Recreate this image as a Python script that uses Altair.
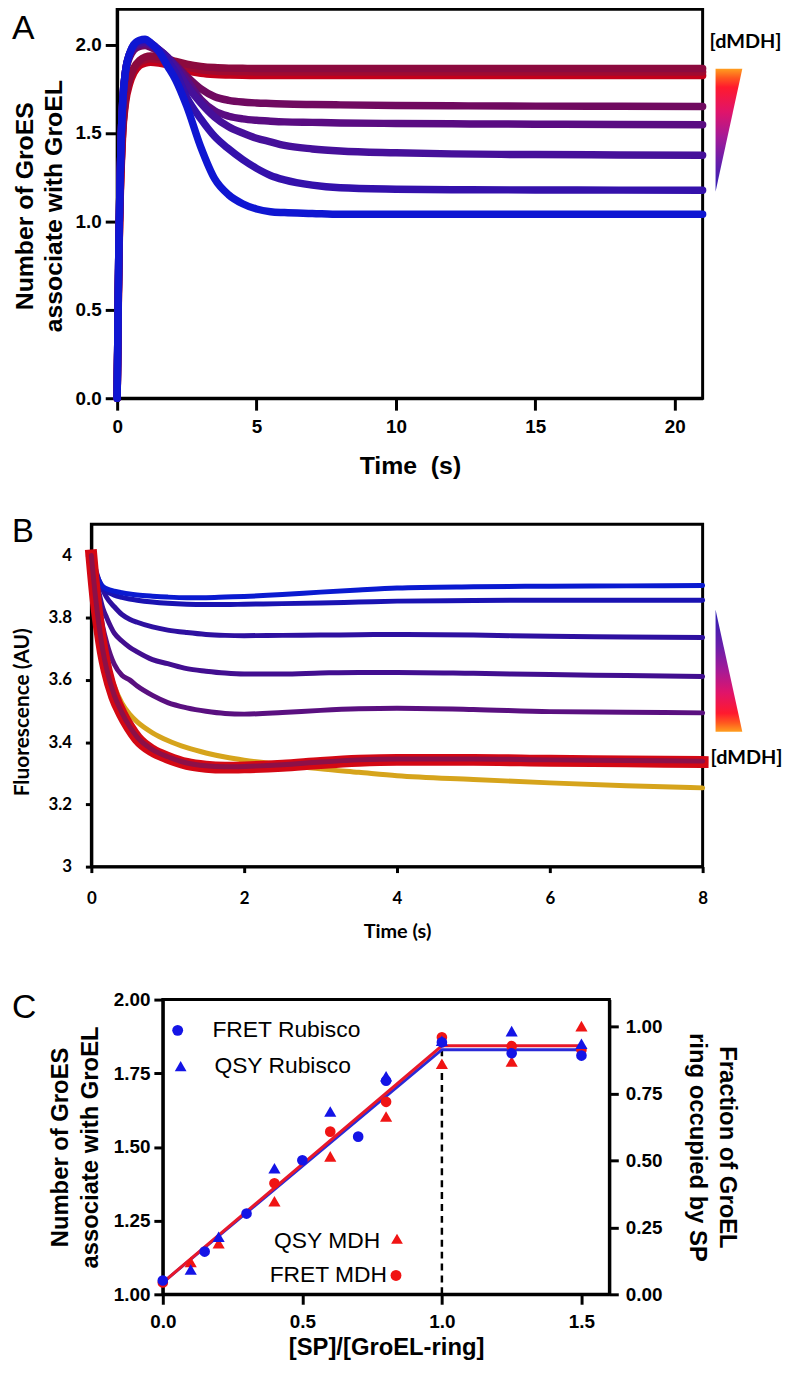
import altair as alt
import pandas as pd

ARIAL = "Liberation Sans"
CALIBRI = "Lato"

# ---------------- Panel A: GroES per GroEL vs time ----------------
A_TIME = [0, 0.03, 0.06, 0.1, 0.15, 0.2, 0.3, 0.45, 0.6, 0.8, 1.0, 1.2, 1.5, 1.8, 2.1,
          2.5, 3.0, 3.5, 4.0, 4.5, 5.0, 5.5, 6.0, 7.0, 8.0, 10, 12, 15, 18, 21]
A_S1 = [0, 0.45, 0.85, 1.2, 1.5, 1.68, 1.85, 1.95, 2.0, 2.025, 2.03, 2.01, 1.96, 1.88, 1.80,
        1.65, 1.42, 1.24, 1.15, 1.10, 1.07, 1.055, 1.05, 1.045, 1.04, 1.04, 1.04, 1.04, 1.04, 1.04]
A_S2 = [0, 0.45, 0.85, 1.2, 1.5, 1.68, 1.85, 1.95, 2.0, 2.02, 2.025, 2.01, 1.97, 1.91, 1.84,
        1.70, 1.58, 1.48, 1.41, 1.35, 1.30, 1.26, 1.235, 1.205, 1.19, 1.182, 1.179, 1.178, 1.177, 1.176]
A_S3 = [0, 0.45, 0.85, 1.2, 1.5, 1.68, 1.85, 1.95, 1.99, 2.01, 2.015, 2.0, 1.97, 1.93, 1.87,
        1.77, 1.67, 1.59, 1.535, 1.50, 1.47, 1.45, 1.43, 1.41, 1.398, 1.388, 1.382, 1.378, 1.376, 1.374]
A_S4 = [0, 0.45, 0.85, 1.2, 1.5, 1.68, 1.85, 1.94, 1.98, 2.0, 2.005, 1.995, 1.97, 1.93, 1.88,
        1.80, 1.69, 1.625, 1.595, 1.58, 1.572, 1.567, 1.563, 1.56, 1.557, 1.554, 1.552, 1.55, 1.548, 1.547]
A_S5 = [0, 0.45, 0.85, 1.2, 1.5, 1.67, 1.84, 1.93, 1.97, 1.99, 1.995, 1.985, 1.96, 1.925, 1.885,
        1.82, 1.75, 1.705, 1.685, 1.675, 1.67, 1.667, 1.664, 1.661, 1.659, 1.656, 1.654, 1.652, 1.651, 1.65]
A_S6 = [0, 0.4, 0.78, 1.1, 1.35, 1.52, 1.7, 1.81, 1.87, 1.91, 1.93, 1.935, 1.93, 1.92, 1.905,
        1.89, 1.877, 1.87, 1.867, 1.866, 1.865, 1.865, 1.865, 1.865, 1.865, 1.865, 1.865, 1.865, 1.865, 1.865]
A_S7 = [0, 0.4, 0.78, 1.1, 1.35, 1.52, 1.69, 1.80, 1.86, 1.90, 1.915, 1.92, 1.915, 1.905, 1.89,
        1.872, 1.858, 1.85, 1.847, 1.846, 1.845, 1.845, 1.845, 1.845, 1.845, 1.845, 1.845, 1.845, 1.845, 1.845]
A_S8 = [0, 0.38, 0.75, 1.07, 1.32, 1.5, 1.67, 1.78, 1.84, 1.88, 1.895, 1.9, 1.895, 1.885, 1.87,
        1.852, 1.838, 1.831, 1.828, 1.826, 1.825, 1.825, 1.825, 1.825, 1.825, 1.825, 1.825, 1.825, 1.825, 1.825]
A_NAMES = ["s8", "s7", "s6", "s5", "s4", "s3", "s2", "s1"]
A_VALUES = [A_S8, A_S7, A_S6, A_S5, A_S4, A_S3, A_S2, A_S1]
A_COLORS = ["#c4001a", "#a00a30", "#8c0a3e", "#700a60", "#5a0c82", "#46109a", "#3411ab", "#0f16d2"]
A_X_TICKS = [0, 5, 10, 15, 20]
A_Y_TICKS = [0.0, 0.5, 1.0, 1.5, 2.0]

# ---------------- Panel B: fluorescence vs time ----------------
B_TIME = [0, 0.05, 0.1, 0.15, 0.2, 0.3, 0.4, 0.5, 0.6, 0.8, 1.0, 1.25, 1.5, 1.75, 2.0,
          2.5, 3.0, 3.5, 4.0, 5.0, 6.0, 7.0, 8.0]
B_GOLD = [4.0, 3.88, 3.79, 3.72, 3.66, 3.58, 3.525, 3.49, 3.465, 3.43, 3.405, 3.382, 3.365, 3.352, 3.342,
          3.328, 3.314, 3.303, 3.292, 3.28, 3.269, 3.26, 3.253]
B_S5 = [4.0, 3.92, 3.84, 3.77, 3.72, 3.65, 3.615, 3.60, 3.58, 3.55, 3.527, 3.51, 3.499, 3.492, 3.49,
        3.495, 3.502, 3.507, 3.509, 3.505, 3.498, 3.496, 3.494]
B_S4 = [4.0, 3.94, 3.88, 3.83, 3.80, 3.75, 3.725, 3.705, 3.69, 3.665, 3.652, 3.636, 3.628, 3.622, 3.619,
        3.619, 3.622, 3.624, 3.624, 3.621, 3.617, 3.614, 3.611]
B_S3 = [4.0, 3.96, 3.92, 3.89, 3.865, 3.835, 3.81, 3.795, 3.785, 3.77, 3.76, 3.752, 3.746, 3.743, 3.742,
        3.743, 3.744, 3.745, 3.746, 3.744, 3.74, 3.738, 3.736]
B_S2 = [4.0, 3.95, 3.915, 3.895, 3.885, 3.872, 3.865, 3.86, 3.856, 3.85, 3.846, 3.843, 3.842, 3.842, 3.843,
        3.845, 3.847, 3.85, 3.853, 3.855, 3.856, 3.856, 3.856]
B_S1 = [4.0, 3.95, 3.92, 3.90, 3.893, 3.885, 3.88, 3.876, 3.873, 3.869, 3.866, 3.864, 3.864, 3.866, 3.868,
        3.874, 3.882, 3.889, 3.895, 3.899, 3.901, 3.902, 3.903]
B_RED = [4.0, 3.87, 3.77, 3.69, 3.63, 3.545, 3.49, 3.447, 3.412, 3.372, 3.35, 3.33, 3.321, 3.318, 3.319,
         3.324, 3.333, 3.34, 3.343, 3.343, 3.34, 3.338, 3.336]
B_DARK = [4.0, 3.875, 3.775, 3.695, 3.635, 3.55, 3.495, 3.45, 3.416, 3.376, 3.353, 3.333, 3.324, 3.321, 3.322,
          3.327, 3.336, 3.343, 3.346, 3.346, 3.343, 3.341, 3.339]
B_NAMES = ["gold", "b5", "b4", "b3", "b2", "b1", "red", "dark"]
B_VALUES = [B_GOLD, B_S5, B_S4, B_S3, B_S2, B_S1, B_RED, B_DARK]
B_COLORS = ["#d6a41c", "#5a1080", "#420e90", "#2e10a0", "#1a12b2", "#0a1ad0", "#d40814", "#8c1048"]
B_WIDTHS = [5, 5, 5, 5, 5, 5, 12, 5]
B_X_TICKS = [0, 2, 4, 6, 8]
B_Y_TICKS = [3.0, 3.2, 3.4, 3.6, 3.8, 4.0]

# ---------------- Panel C: titration ----------------
FRET_RUB_X = [0, 0.15, 0.3, 0.5, 0.7, 0.8, 1.0, 1.25, 1.5]
FRET_RUB_Y = [1.047, 1.145, 1.274, 1.455, 1.535, 1.725, 1.855, 1.818, 1.81]
QSY_RUB_X = [0.1, 0.2, 0.4, 0.6, 0.8, 1.0, 1.25, 1.5]
QSY_RUB_Y = [1.084, 1.195, 1.428, 1.62, 1.74, 1.86, 1.893, 1.85]
FRET_MDH_X = [0, 0.4, 0.6, 0.8, 1.0, 1.25, 1.5]
FRET_MDH_Y = [1.04, 1.377, 1.552, 1.653, 1.872, 1.842, 1.83]
QSY_MDH_X = [0.1, 0.2, 0.4, 0.6, 0.8, 1.0, 1.25, 1.5]
QSY_MDH_Y = [1.11, 1.173, 1.316, 1.468, 1.603, 1.782, 1.79, 1.91]
FIT_X = [0, 1.0, 1.5]
FIT_BLUE = [1.04, 1.83, 1.83]
FIT_RED = [1.04, 1.843, 1.843]
VLINE_X = [1.0]
VLINE_Y = [1.0]
VLINE_Y2 = [1.83]
C_X_TICKS = [0.0, 0.5, 1.0, 1.5]
C_Y_TICKS = [1.0, 1.25, 1.5, 1.75, 2.0]
C_R_TICKS = [0.0, 0.25, 0.5, 0.75, 1.0]

BLUE = "#1414e6"
RED = "#f01414"

ONE = pd.DataFrame({"k": [0]})


def axis(font, size, **kw):
    base = dict(grid=False, domainColor="black", domainWidth=3, tickColor="black",
                tickWidth=3, labelColor="black", titleColor="black", labelFont=font,
                labelFontSize=size, labelFontWeight="bold", titleFontWeight="bold",
                labelFlush=False, labelOverlap=False)
    base.update(kw)
    return alt.Axis(**base)


def text_layer(txt, x, y, font, size, weight="normal", align="left", baseline="middle", color="black"):
    return alt.Chart(ONE).mark_text(text=txt, font=font, fontSize=size, fontWeight=weight,
                                    align=align, baseline=baseline, color=color).encode(
        x=alt.value(x), y=alt.value(y))


def marker(y, baseline):
    return alt.Chart(ONE).mark_text(text=".", fontSize=2, color="white", baseline=baseline).encode(
        x=alt.value(20), y=alt.value(y))


def long_df(times, names, values):
    rows = []
    for n, vals in zip(names, values):
        for t, v in zip(times, vals):
            rows.append({"series": n, "t": t, "v": v})
    return pd.DataFrame(rows)


# ---------------- Build panel A ----------------
WA, HA = 590, 392
dfA = long_df(A_TIME, A_NAMES, A_VALUES)
xA = alt.X("t:Q", scale=alt.Scale(domain=[0, 21], nice=False, zero=False),
           axis=axis(ARIAL, 19, values=A_X_TICKS, format="d", title="Time\u00a0\u00a0(s)",
                     titleFont=ARIAL, titleFontSize=25, titleY=56, titleBaseline="top",
                     labelPadding=8, tickSize=12))
yA = alt.Y("v:Q", scale=alt.Scale(domain=[0, 2.2], nice=False),
           axis=axis(ARIAL, 19, values=A_Y_TICKS, format=".1f",
                     title=["Number of GroES", "associate with GroEL"], titleFont=ARIAL,
                     titleFontSize=25, titleX=-93.5, titleY=198, titleAngle=270, titleAlign="center",
                     titleBaseline="middle", titleLineHeight=29, labelPadding=4, tickSize=12))
layersA = []
for n, c in zip(A_NAMES, A_COLORS):
    layersA.append(alt.Chart(dfA).transform_filter(alt.datum.series == n).mark_line(
        color=c, strokeWidth=7.5, interpolate="monotone", strokeCap="round").encode(x=xA, y=yA))

gradA = alt.Gradient(gradient="linear", x1=0, y1=0, x2=0, y2=1, stops=[
    alt.GradientStop(color="#ff9e1f", offset=0.0), alt.GradientStop(color="#ff5a1f", offset=0.07),
    alt.GradientStop(color="#ff1a2e", offset=0.15), alt.GradientStop(color="#e0146a", offset=0.35),
    alt.GradientStop(color="#a61a96", offset=0.55), alt.GradientStop(color="#6a1eaa", offset=0.75),
    alt.GradientStop(color="#2a1eb4", offset=1.0)])
# size 4 -> path drawn at unit scale, i.e. path coordinates are pixels
triA = alt.Chart(ONE).mark_point(shape="M -13.5 -62 L 13.5 -62 L -13.5 62 Z", size=4,
                                 filled=True, fill=gradA, opacity=1, strokeWidth=0).encode(
    x=alt.value(616.5), y=alt.value(122))

panelA = alt.layer(
    *layersA, triA,
    text_layer("[dMDH]", 597, 39, CALIBRI, 20, "bold", baseline="alphabetic"),
    text_layer("A", -106, 3, ARIAL, 34, baseline="top"),
    marker(HA + 85, "top"),
).properties(width=WA, height=HA)

# ---------------- Build panel B ----------------
WB, HB = 616, 345
dfB = long_df(B_TIME, B_NAMES, B_VALUES)
xB = alt.X("t:Q", scale=alt.Scale(domain=[0, 8], nice=False, zero=False),
           axis=axis(CALIBRI, 17, values=B_X_TICKS, format="d", title="Time (s)",
                     titleFont=CALIBRI, titleFontSize=20, titleY=55, titleBaseline="top",
                     labelPadding=18, tickSize=6))
yB = alt.Y("v:Q", scale=alt.Scale(domain=[3, 4.1], nice=False, zero=False),
           axis=axis(CALIBRI, 17, values=B_Y_TICKS, format=".1~f", title="Fluorescence (AU)",
                     titleFont=CALIBRI, titleFontSize=21, titleX=-69, titleY=189, titleAngle=270,
                     titleAlign="center", titleBaseline="middle", labelPadding=14, tickSize=6))
layersB = []
for n, c, w in zip(B_NAMES, B_COLORS, B_WIDTHS):
    cap = "square" if n == "red" else "round"
    layersB.append(alt.Chart(dfB).transform_filter(alt.datum.series == n).mark_line(
        color=c, strokeWidth=w, interpolate="monotone", strokeCap=cap).encode(x=xB, y=yB))

gradB = alt.Gradient(gradient="linear", x1=0, y1=0, x2=0, y2=1, stops=[
    alt.GradientStop(color="#2a1eb4", offset=0.0), alt.GradientStop(color="#6a1eaa", offset=0.3),
    alt.GradientStop(color="#a61a96", offset=0.5), alt.GradientStop(color="#e0146a", offset=0.68),
    alt.GradientStop(color="#ff1a2e", offset=0.85), alt.GradientStop(color="#ff5a1f", offset=0.93),
    alt.GradientStop(color="#ff9e1f", offset=1.0)])
triB = alt.Chart(ONE).mark_point(shape="M -13.5 -61.5 L 13.5 61.5 L -13.5 61.5 Z", size=4,
                                 filled=True, fill=gradB, opacity=1, strokeWidth=0).encode(
    x=alt.value(642.5), y=alt.value(147.5))

panelB = alt.layer(
    *layersB, triB,
    text_layer("[dMDH]", 624, 236, CALIBRI, 20, "bold"),
    text_layer("B", -80, 18, ARIAL, 33, baseline="alphabetic"),
    marker(-25, "bottom"),
    marker(HB + 85, "top"),
).properties(width=WB, height=HB)

# ---------------- Build panel C ----------------
WC, HC = 450, 297
xC = alt.X("x:Q", scale=alt.Scale(domain=[0, 1.6], nice=False, zero=False),
           axis=axis(ARIAL, 19, values=C_X_TICKS, format=".1f", title="[SP]/[GroEL-ring]",
                     titleFont=ARIAL, titleFontSize=24, titleY=42, titleBaseline="top",
                     labelPadding=8, tickSize=10))
yC = alt.Y("y:Q", scale=alt.Scale(domain=[1, 2], nice=False, zero=False),
           axis=axis(ARIAL, 19, values=C_Y_TICKS, format=".2f",
                     title=["Number of GroES", "associate with GroEL"], titleFont=ARIAL,
                     titleFontSize=24, titleX=-103, titleY=148.5, titleAngle=270, titleAlign="center",
                     titleBaseline="middle", titleLineHeight=30, labelPadding=4, tickSize=9))


def pts(xs, ys, color, shape, size):
    return alt.Chart(pd.DataFrame({"x": xs, "y": ys})).mark_point(
        shape=shape, filled=True, color=color, opacity=1, size=size).encode(x=xC, y=yC)


fit_blue = alt.Chart(pd.DataFrame({"x": FIT_X, "y": FIT_BLUE})).mark_line(
    color="#2a2ad8", strokeWidth=3).encode(x=xC, y=yC)
fit_red = alt.Chart(pd.DataFrame({"x": FIT_X, "y": FIT_RED})).mark_line(
    color="#e8182a", strokeWidth=3).encode(x=xC, y=yC)
vline = alt.Chart(pd.DataFrame({"x": VLINE_X, "y": VLINE_Y, "y2": VLINE_Y2})).mark_rule(
    color="black", strokeWidth=2.5, strokeDash=[7, 5]).encode(x=xC, y=yC, y2="y2:Q")

legendC = [
    alt.Chart(ONE).mark_point(shape="circle", filled=True, color=BLUE, opacity=1, size=120).encode(
        x=alt.value(15), y=alt.value(31)),
    text_layer("FRET Rubisco", 50, 31, ARIAL, 23),
    alt.Chart(ONE).mark_point(shape="triangle-up", filled=True, color=BLUE, opacity=1, size=140).encode(
        x=alt.value(18), y=alt.value(67)),
    text_layer("QSY Rubisco", 52, 67, ARIAL, 23),
    text_layer("QSY MDH", 219, 243, ARIAL, 23, align="right"),
    alt.Chart(ONE).mark_point(shape="triangle-up", filled=True, color=RED, opacity=1, size=140).encode(
        x=alt.value(236), y=alt.value(241)),
    text_layer("FRET MDH", 226, 278, ARIAL, 23, align="right"),
    alt.Chart(ONE).mark_point(shape="circle", filled=True, color=RED, opacity=1, size=120).encode(
        x=alt.value(235), y=alt.value(278)),
]

innerC = alt.layer(
    vline, fit_blue, fit_red,
    pts(QSY_MDH_X, QSY_MDH_Y, RED, "triangle-up", 150),
    pts(FRET_MDH_X, FRET_MDH_Y, RED, "circle", 115),
    pts(QSY_RUB_X, QSY_RUB_Y, BLUE, "triangle-up", 150),
    pts(FRET_RUB_X, FRET_RUB_Y, BLUE, "circle", 115),
    *legendC,
    text_layer("C", -152, 19, ARIAL, 34, baseline="alphabetic"),
    marker(-32, "bottom"),
)

rightC = alt.Chart(pd.DataFrame({"f": C_R_TICKS})).mark_point(opacity=0).encode(
    y=alt.Y("f:Q", scale=alt.Scale(domain=[0, 1.1], nice=False, zero=False),
            axis=axis(ARIAL, 19, orient="right", values=C_R_TICKS, format=".2f",
                      title=["Fraction of GroEL", "ring occupied by SP"], titleFont=ARIAL,
                      titleFontSize=24, titleX=118, titleY=148.5, titleAngle=90, titleAlign="center",
                      titleBaseline="middle", titleLineHeight=30, labelPadding=7, tickSize=9)))

panelC = alt.layer(innerC, rightC).resolve_scale(y="independent").properties(width=WC, height=HC)


def spacer():
    # 1-px empty cell (zero-size point): each panel then sits after it by its own left extent
    return alt.Chart(ONE).mark_point(opacity=0, size=0).encode(
        x=alt.value(0), y=alt.value(0)).properties(
        width=1, height=1, view=alt.ViewBackground(stroke="transparent"))


rowA = alt.hconcat(spacer(), panelA, spacing=0)
rowB = alt.hconcat(spacer(), panelB, spacing=0)
rowC = alt.hconcat(spacer(), panelC, spacing=0)

chart = alt.vconcat(rowA, rowB, rowC, spacing=9).properties(
    padding={"left": -3, "top": -6, "right": 0, "bottom": 0}
).configure_view(stroke="black", strokeWidth=3)

chart.save("out.html", embed_options={"renderer": "svg", "actions": False})
